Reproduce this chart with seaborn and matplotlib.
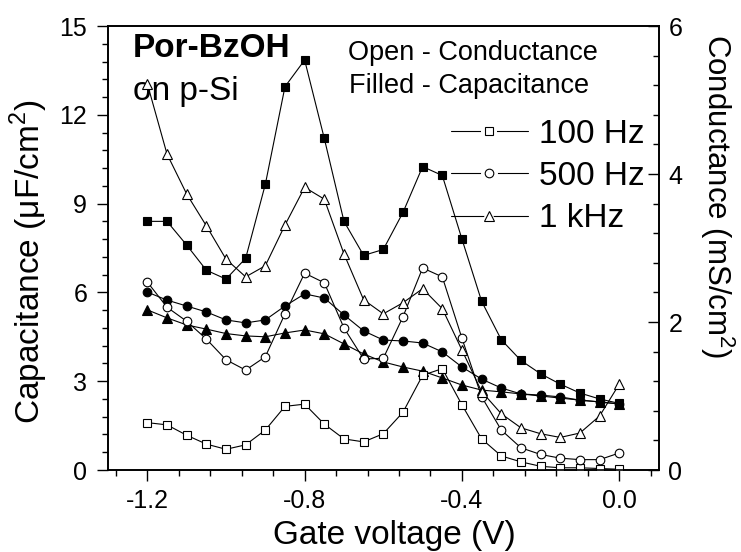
import matplotlib
matplotlib.use("Agg")
import matplotlib.pyplot as plt
from matplotlib.lines import Line2D
from matplotlib.legend_handler import HandlerTuple
from matplotlib.ticker import MultipleLocator, FixedLocator
import pandas as pd
import seaborn as sns

# Gate voltage sweep (V)
voltage = [-1.20, -1.15, -1.10, -1.05, -1.00, -0.95, -0.90, -0.85, -0.80,
           -0.75, -0.70, -0.65, -0.60, -0.55, -0.50, -0.45, -0.40, -0.35,
           -0.30, -0.25, -0.20, -0.15, -0.10, -0.05, 0.00]

# Capacitance (uF/cm^2), filled symbols
cap_100 = [8.40, 8.40, 7.60, 6.75, 6.45, 7.15, 9.65, 12.95, 13.85, 11.20,
           8.40, 7.25, 7.45, 8.70, 10.25, 9.95, 7.80, 5.70, 4.40, 3.70,
           3.25, 2.90, 2.60, 2.40, 2.25]
cap_500 = [6.01, 5.74, 5.54, 5.34, 5.07, 4.97, 5.07, 5.54, 5.95, 5.81,
           5.24, 4.70, 4.39, 4.36, 4.29, 3.99, 3.48, 3.07, 2.77, 2.57,
           2.53, 2.47, 2.36, 2.30, 2.23]
cap_1k = [5.41, 5.14, 4.90, 4.76, 4.61, 4.53, 4.50, 4.63, 4.73, 4.60,
          4.26, 3.92, 3.65, 3.48, 3.34, 3.11, 2.87, 2.70, 2.64, 2.57,
          2.50, 2.43, 2.36, 2.30, 2.23]

# Conductance (mS/cm^2), open symbols
cond_100 = [0.64, 0.61, 0.47, 0.35, 0.28, 0.34, 0.54, 0.86, 0.89, 0.62,
            0.42, 0.38, 0.49, 0.78, 1.28, 1.37, 0.88, 0.42, 0.19, 0.11,
            0.05, 0.03, 0.03, 0.02, 0.01]
cond_500 = [2.54, 2.20, 2.01, 1.77, 1.49, 1.35, 1.53, 2.11, 2.66, 2.53,
            1.92, 1.50, 1.51, 2.07, 2.73, 2.61, 1.78, 0.99, 0.54, 0.30,
            0.21, 0.16, 0.14, 0.14, 0.23]
cond_1k = [5.22, 4.27, 3.73, 3.30, 2.85, 2.61, 2.76, 3.31, 3.82, 3.66,
           2.92, 2.30, 2.11, 2.26, 2.45, 2.18, 1.62, 1.06, 0.76, 0.57,
           0.49, 0.44, 0.50, 0.73, 1.16]

frequencies = ["100 Hz", "500 Hz", "1 kHz"]
markers = ["s", "o", "^"]
marker_sizes = [5.6, 6.2, 7.0]

x_ticks = [-1.2, -0.8, -0.4, 0.0]
x_tick_labels = ["-1.2", "-0.8", "-0.4", "0.0"]
cap_ticks = [0, 3, 6, 9, 12, 15]
cap_tick_labels = ["0", "3", "6", "9", "12", "15"]
cond_ticks = [0, 2, 4, 6]
cond_tick_labels = ["0", "2", "4", "6"]

cap_df = pd.DataFrame({
    "voltage": voltage * 3,
    "value": cap_100 + cap_500 + cap_1k,
    "freq": sum([[f] * len(voltage) for f in frequencies], []),
})
cond_df = pd.DataFrame({
    "voltage": voltage * 3,
    "value": cond_100 + cond_500 + cond_1k,
    "freq": sum([[f] * len(voltage) for f in frequencies], []),
})

sns.set_style("ticks")
plt.rcParams["font.family"] = ["Liberation Sans", "DejaVu Sans"]
plt.rcParams["mathtext.fontset"] = "custom"
plt.rcParams["mathtext.rm"] = "Liberation Sans"
plt.rcParams["axes.unicode_minus"] = False
for key in ("text.color", "axes.labelcolor", "xtick.color", "ytick.color",
            "axes.edgecolor"):
    plt.rcParams[key] = "black"

fig = plt.figure(figsize=(7.41, 5.52), dpi=100)
ax = fig.add_axes([108 / 741, 82 / 552, 550.6 / 741, 444 / 552])
ax2 = ax.twinx()

line_kw = dict(color="black", linewidth=0.8, markeredgecolor="black",
               markeredgewidth=0.8, estimator=None, sort=False, legend=False)

for freq, mk, ms in zip(frequencies, markers, marker_sizes):
    sns.lineplot(data=cap_df[cap_df["freq"] == freq], x="voltage", y="value",
                 ax=ax, marker=mk, markersize=ms, markerfacecolor="black",
                 **line_kw)
    sns.lineplot(data=cond_df[cond_df["freq"] == freq], x="voltage", y="value",
                 ax=ax2, marker=mk, markersize=ms, markerfacecolor="white",
                 **line_kw)

# Axes limits and ticks
ax.set_xlim(-1.3, 0.1)
ax.set_ylim(0, 15)
ax2.set_ylim(0, 6)

ax.xaxis.set_major_locator(FixedLocator(x_ticks))
ax.set_xticklabels(x_tick_labels)
ax.xaxis.set_minor_locator(MultipleLocator(0.08))
ax.yaxis.set_major_locator(FixedLocator(cap_ticks))
ax.set_yticklabels(cap_tick_labels)
ax.yaxis.set_minor_locator(MultipleLocator(0.6))
ax2.yaxis.set_major_locator(FixedLocator(cond_ticks))
ax2.set_yticklabels(cond_tick_labels)
ax2.yaxis.set_minor_locator(MultipleLocator(0.4))

tick_size = 18
ax.tick_params(axis="x", which="major", direction="out", length=8, width=1.0,
               labelsize=tick_size, pad=6, top=False, bottom=True)
ax.tick_params(axis="x", which="minor", direction="out", length=4, width=1.0,
               top=False, bottom=True)
ax.tick_params(axis="y", which="major", direction="out", length=8, width=1.0,
               labelsize=tick_size, pad=7, left=True, right=False)
ax.tick_params(axis="y", which="minor", direction="out", length=4, width=1.0,
               left=True, right=False)
ax2.tick_params(axis="y", which="major", direction="in", length=8, width=1.0,
                labelsize=tick_size, pad=7, right=True, left=False)
ax2.tick_params(axis="y", which="minor", direction="in", length=4, width=1.0,
                right=True, left=False)

for a in (ax, ax2):
    for sp in a.spines.values():
        sp.set_visible(True)
        sp.set_linewidth(1.2)
        sp.set_color("black")

ax.set_xlabel("Gate voltage (V)", fontsize=24)
ax.xaxis.set_label_coords(0.521, -0.113)
ax.set_ylabel("Capacitance (μF/cm$^2$)", fontsize=24)
ax.yaxis.set_label_coords(-0.105, 0.47)
ax2.set_ylabel("Conductance (mS/cm$^2$)", fontsize=22.5, rotation=-90,
               va="bottom")
ax2.yaxis.set_label_coords(1.072, 0.617)

# Annotations
ax.text(0.045, 0.930, "Por-BzOH", transform=ax.transAxes, fontsize=24,
        fontweight="bold", va="baseline")
ax.text(0.045, 0.833, "on p-Si", transform=ax.transAxes, fontsize=24,
        va="baseline")
ax.text(0.436, 0.923, "Open - Conductance", transform=ax.transAxes,
        fontsize=19.5, va="baseline")
ax.text(0.438, 0.849, "Filled - Capacitance", transform=ax.transAxes,
        fontsize=19.5, va="baseline")

# Legend keys: line broken around an open symbol
handles = []
for mk, ms in zip(markers, marker_sizes):
    gap = Line2D([], [], color="black", linewidth=0.8, marker=mk,
                 markersize=ms + 6, markerfacecolor="white",
                 markeredgecolor="white", markeredgewidth=0)
    sym = Line2D([], [], linestyle="none", marker=mk, markersize=ms,
                 markerfacecolor="white", markeredgecolor="black",
                 markeredgewidth=0.8)
    handles.append((gap, sym))
ax2.legend(handles, frequencies, loc="upper left",
           bbox_to_anchor=(0.623, 0.791), frameon=False, fontsize=24,
           handlelength=2.3, handletextpad=0.35, labelspacing=0.34,
           borderpad=0, borderaxespad=0, numpoints=1,
           handler_map={tuple: HandlerTuple(ndivide=1)})

ax.grid(False)
ax2.grid(False)
fig.savefig("out.png", dpi=100)
